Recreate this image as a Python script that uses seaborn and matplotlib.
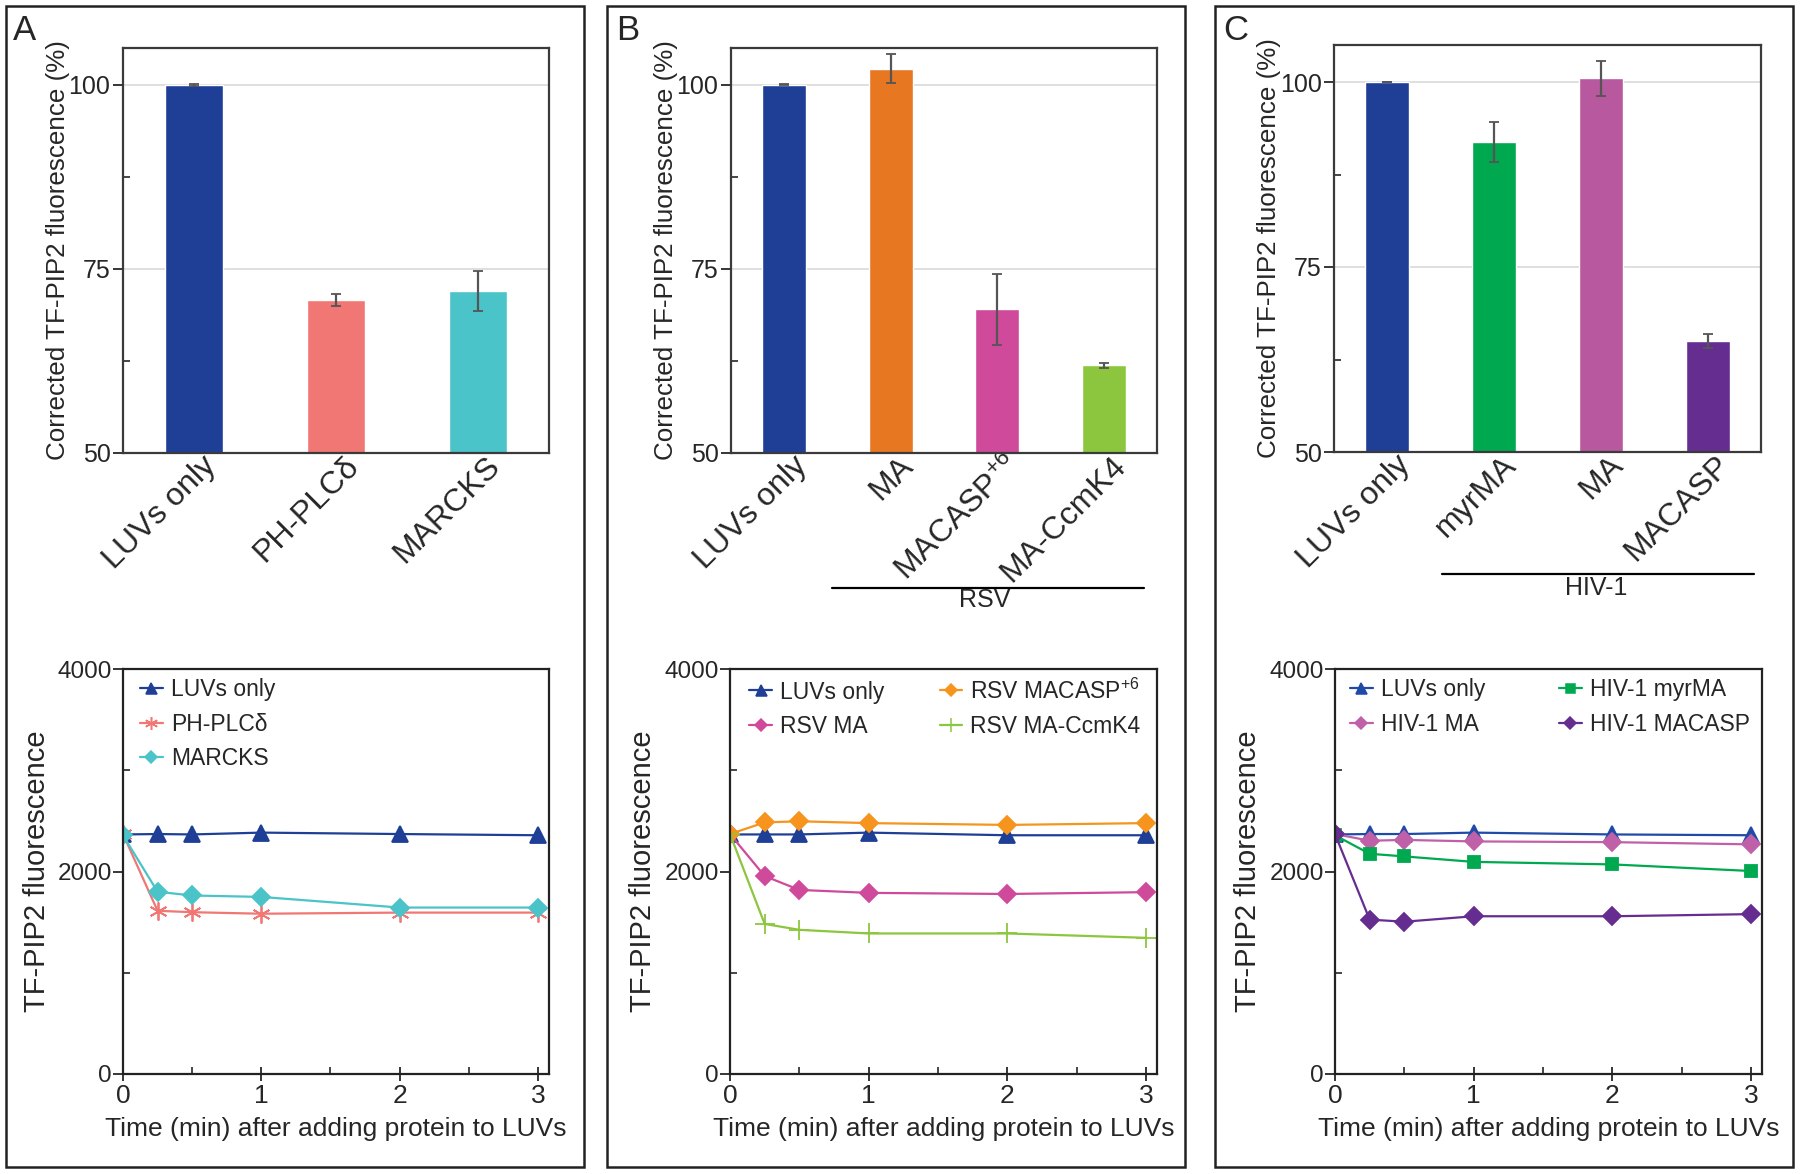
import numpy as np
import pandas as pd
import seaborn as sns
import matplotlib.pyplot as plt
from matplotlib.ticker import MultipleLocator
from matplotlib.patches import Rectangle
from matplotlib.lines import Line2D
from matplotlib.transforms import ScaledTranslation

# ---- bar data (corrected TF-PIP2 fluorescence, %) ----
a_bar_labels = ['LUVs only', 'PH-PLCδ', 'MARCKS']
a_bar_vals = [100.0, 70.8, 72.0]
a_bar_err = [0.1, 0.85, 2.7]
a_bar_colors = ['#1f3e96', '#f07774', '#4ac3c9']

b_bar_labels = ['LUVs only', 'MA', r'MACASP$^{+6}$', 'MA-CcmK4']
b_bar_vals = [100.0, 102.2, 69.5, 61.9]
b_bar_err = [0.05, 2.0, 4.8, 0.3]
b_bar_colors = ['#1f3e96', '#e87722', '#cf4a9a', '#8cc63f']

c_bar_labels = ['LUVs only', 'myrMA', 'MA', 'MACASP']
c_bar_vals = [100.0, 91.9, 100.5, 65.0]
c_bar_err = [0.05, 2.75, 2.4, 1.0]
c_bar_colors = ['#1f3e96', '#00a84f', '#b8589e', '#662d91']

# ---- time course data (TF-PIP2 fluorescence) ----
time_min = [0, 0.25, 0.5, 1, 2, 3]
luvs_a = [2366, 2370, 2366, 2384, 2370, 2358]
phplc = [2370, 1612, 1598, 1583, 1594, 1594]
marcks = [2358, 1800, 1763, 1749, 1644, 1644]

luvs_b = [2366, 2366, 2366, 2384, 2358, 2358]
rsv_ma = [2370, 1955, 1818, 1789, 1778, 1796]
rsv_macasp = [2370, 2485, 2496, 2478, 2460, 2478]
rsv_ccmk4 = [2370, 1482, 1424, 1388, 1388, 1345]

luvs_c = [2366, 2370, 2370, 2384, 2366, 2358]
hiv_ma = [2370, 2304, 2312, 2297, 2290, 2268]
hiv_myrma = [2358, 2175, 2149, 2095, 2070, 2005]
hiv_macasp = [2370, 1525, 1504, 1558, 1558, 1579]

sns.set_style('ticks')
plt.rcParams['font.family'] = ['Liberation Sans', 'DejaVu Sans']
plt.rcParams['mathtext.fontset'] = 'custom'
plt.rcParams['mathtext.rm'] = 'Liberation Sans'
plt.rcParams['mathtext.it'] = 'Liberation Sans:italic'
plt.rcParams['mathtext.bf'] = 'Liberation Sans:bold'

W, H = 1800, 1174
fig = plt.figure(figsize=(W / 100, H / 100), dpi=100)


def px_axes(x0, x1, y0, y1):
    return fig.add_axes([x0 / W, (H - y1) / H, (x1 - x0) / W, (y1 - y0) / H])


def style_spines(ax, col='#3a3a3a'):
    for s in ax.spines.values():
        s.set_visible(True)
        s.set_color(col)
        s.set_linewidth(1.6)


def bar_panel(ax, labels, vals, err, colors):
    df = pd.DataFrame({'cat': labels, 'val': vals})
    sns.barplot(data=df, x='cat', y='val', hue='cat', palette=colors,
                saturation=1, width=0.41, legend=False, ax=ax, zorder=2)
    ax.errorbar(np.arange(len(vals)), vals, yerr=err, fmt='none',
                ecolor='#555555', elinewidth=1.6, capsize=3.5, capthick=1.3, zorder=3)
    ax.set_ylim(50, 105)
    ax.set_xlim(-0.5, len(vals) - 0.5)
    ax.set_yticks([50, 75, 100])
    ax.yaxis.set_minor_locator(MultipleLocator(12.5))
    ax.yaxis.grid(True, which='major', color='#dcdcdc', lw=1.3)
    ax.set_axisbelow(True)
    ax.tick_params(axis='y', which='major', direction='out', length=7, width=1.3,
                   labelsize=18, pad=2)
    ax.tick_params(axis='y', which='minor', direction='in', length=5, width=1.2)
    ax.tick_params(axis='x', length=0, pad=6)
    ax.set_xticks(range(len(labels)))
    ax.set_xticklabels(labels, rotation=45, ha='right', va='center',
                       rotation_mode='anchor', fontsize=23)
    shift = ScaledTranslation(0.18, 0, fig.dpi_scale_trans)
    for lab in ax.get_xticklabels():
        lab.set_transform(lab.get_transform() + shift)
    ax.set_xlabel('')
    ax.set_ylabel('Corrected TF-PIP2 fluorescence (%)', fontsize=18.7)
    ax.yaxis.set_label_coords(-0.125, 0.5)
    style_spines(ax)


def line_panel(ax, series, ncol, colspace, anchor_x):
    handles = []
    for vals, col, mk, ms, lab in series:
        sns.lineplot(x=time_min, y=vals, color=col, marker=mk, markersize=ms,
                     markeredgecolor=col, markeredgewidth=1.3, lw=1.6, ax=ax)
        handles.append(Line2D([], [], color=col, marker=mk, markersize=ms * 0.72,
                              markeredgecolor=col, markeredgewidth=1.1, lw=1.6, label=lab))
    ax.set_xlim(0, 3.08)
    ax.set_ylim(0, 4000)
    ax.set_xticks([0, 1, 2, 3])
    ax.set_yticks([0, 2000, 4000])
    ax.xaxis.set_minor_locator(MultipleLocator(0.5))
    ax.yaxis.set_minor_locator(MultipleLocator(1000))
    ax.tick_params(axis='y', which='major', direction='out', length=7, width=1.3,
                   labelsize=17.5, pad=1)
    ax.tick_params(axis='y', which='minor', direction='in', length=5, width=1.2)
    ax.tick_params(axis='x', which='major', direction='inout', length=10, width=1.3,
                   labelsize=19, pad=2)
    ax.tick_params(axis='x', which='minor', direction='in', length=5, width=1.2)
    ax.set_xlabel('Time (min) after adding protein to LUVs', fontsize=19)
    ax.xaxis.set_label_coords(0.5, -0.105)
    ax.set_ylabel('TF-PIP2 fluorescence', fontsize=21)
    ax.yaxis.set_label_coords(-0.17, 0.5)
    ax.legend(handles=handles, loc='upper left', bbox_to_anchor=(anchor_x, 0.977),
              ncol=ncol, frameon=False, fontsize=16.5, handlelength=1.0,
              handletextpad=0.35, labelspacing=0.49, columnspacing=colspace,
              borderpad=0, borderaxespad=0)
    style_spines(ax, '#222222')


# ---- panel A ----
axA1 = px_axes(123, 549, 48, 453)
bar_panel(axA1, a_bar_labels, a_bar_vals, a_bar_err, a_bar_colors)
axA2 = px_axes(123, 549, 669, 1074)
line_panel(axA2, [
    (luvs_a, '#1f3e96', '^', 11, 'LUVs only'),
    (phplc, '#f07774', (6, 2, 0), 13, 'PH-PLCδ'),
    (marcks, '#4ac3c9', 'D', 9, 'MARCKS'),
], 1, 2.0, 0.04)

# ---- panel B ----
axB1 = px_axes(731, 1157, 48, 453)
bar_panel(axB1, b_bar_labels, b_bar_vals, b_bar_err, b_bar_colors)
axB2 = px_axes(730, 1157, 669, 1074)
line_panel(axB2, [
    (luvs_b, '#1f3e96', '^', 11, 'LUVs only'),
    (rsv_ma, '#cf4a9a', 'D', 9, 'RSV MA'),
    (rsv_macasp, '#f7941d', 'D', 9, r'RSV MACASP$^{+6}$'),
    (rsv_ccmk4, '#8cc63f', '+', 14, 'RSV MA-CcmK4'),
], 2, 2.4, 0.045)

# ---- panel C ----
axC1 = px_axes(1334, 1761, 45, 452)
bar_panel(axC1, c_bar_labels, c_bar_vals, c_bar_err, c_bar_colors)
axC2 = px_axes(1335, 1762, 669, 1074)
line_panel(axC2, [
    (luvs_c, '#1f4aa8', '^', 11, 'LUVs only'),
    (hiv_ma, '#c060a8', 'D', 9, 'HIV-1 MA'),
    (hiv_myrma, '#00a84f', 's', 9, 'HIV-1 myrMA'),
    (hiv_macasp, '#662d91', 'D', 9, 'HIV-1 MACASP'),
], 2, 3.2, 0.035)

# group brackets under the bar labels
axB1.plot([0.236, 0.969], [-0.333, -0.333], transform=axB1.transAxes,
          color='black', lw=1.6, clip_on=False)
axB1.text(0.595, -0.363, 'RSV', transform=axB1.transAxes, ha='center',
          va='center', fontsize=18)
axC1.plot([0.252, 0.984], [-0.30, -0.30], transform=axC1.transAxes,
          color='black', lw=1.6, clip_on=False)
axC1.text(0.614, -0.335, 'HIV-1', transform=axC1.transAxes, ha='center',
          va='center', fontsize=18)

# panel frames and letters
for x0, x1, let, lx in [(6, 584, 'A', 13), (607, 1185, 'B', 616), (1215, 1793, 'C', 1223)]:
    fig.add_artist(Rectangle((x0 / W, (H - 1167) / H), (x1 - x0) / W, 1161 / H,
                             transform=fig.transFigure, fill=False,
                             edgecolor='#222222', lw=1.8))
    fig.text(lx / W, 1 - 40 / H, let, fontsize=25, ha='left', va='baseline')

fig.savefig('out.png', dpi=100)
